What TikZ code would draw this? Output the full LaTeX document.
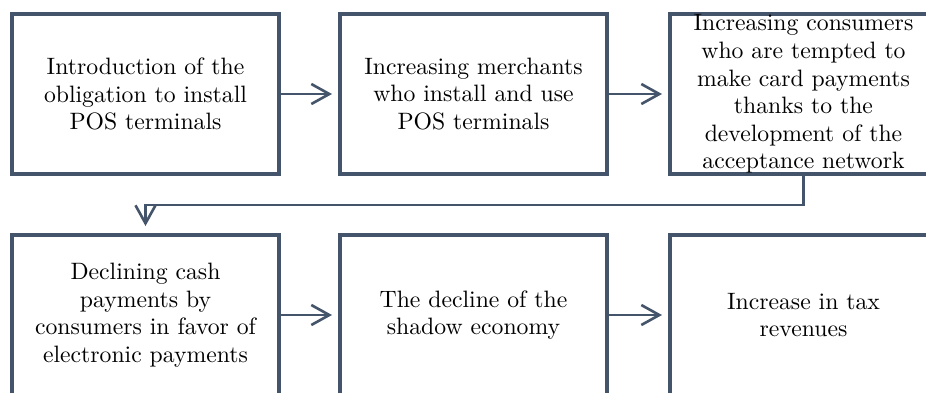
\documentclass[tikz,border=0pt]{standalone}
\usepackage{fontspec}
\setmainfont{lmroman10-regular.otf}
\usetikzlibrary{arrows.meta}
\definecolor{slate}{HTML}{44546A}
\begin{document}
\begin{tikzpicture}[x=1pt,y=1pt,
  box/.style={draw=slate, line width=4pt, minimum width=267pt, minimum height=160pt, inner sep=0pt},
  txt/.style={align=center, font=\fontsize{23.7pt}{27.6pt}\selectfont, inner sep=0pt, text=black},
  link/.style={draw=slate, line width=2.6pt, -{Straight Barb[length=18pt,width=20pt]}}]
\useasboundingbox (0,0) rectangle (926,-392);
\fill[white] (0,0) rectangle (926,-392);
% boxes
\node[box] (b1) at (145.5,-94) {};
\node[box] (b2) at (473.5,-94) {};
\node[box] (b3) at (803.5,-94) {};
\node[box] (b4) at (145.5,-315) {};
\node[box] (b5) at (473.5,-315) {};
\node[box] (b6) at (803.5,-315) {};
% texts
\node[txt] (t1) at (b1.center) {Introduction of the\\obligation to install\\POS terminals};
\node[txt] (t2) at (b2.center) {Increasing merchants\\who install and use\\POS terminals};
\node[txt] (t3) at (b3.center) {Increasing consumers\\who are tempted to\\make card payments\\thanks to the\\development of the\\acceptance network};
\node[txt] (t4) at (b4.center) {Declining cash\\payments by\\consumers in favor of\\electronic payments};
\node[txt] (t5) at (b5.center) {The decline of the\\shadow economy};
\node[txt] (t6) at (b6.center) {Increase in tax\\revenues};
% connectors
\draw[link, shorten >=6pt] (b1.east) -- (b2.west);
\draw[link, shorten >=6pt] (b2.east) -- (b3.west);
\draw[link, shorten >=7pt] (b3.south) -- ++(0,-29) -| (b4.north);
\draw[link, shorten >=6pt] (b4.east) -- (b5.west);
\draw[link, shorten >=6pt] (b5.east) -- (b6.west);
\end{tikzpicture}
\end{document}
